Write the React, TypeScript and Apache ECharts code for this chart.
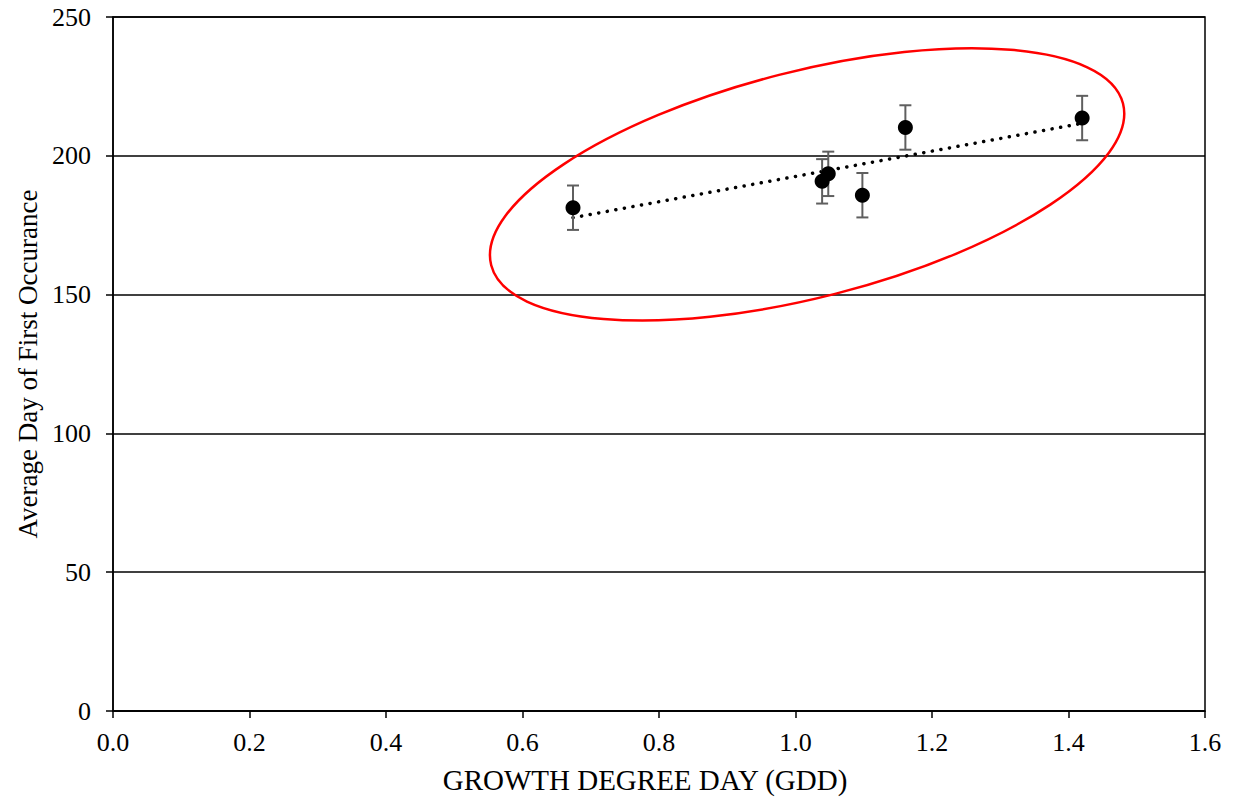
import { useEffect, useRef } from "react";
import * as echarts from "echarts";

const gdd = [0.674, 1.039, 1.048, 1.098, 1.161, 1.42];
const avgDay = [181.3, 190.8, 193.5, 185.8, 210.2, 213.6];
const errorMargin = [8, 8, 8, 8, 8, 8];
const trendX = [0.674, 1.42];
const trendY = [177.7, 211.7];
const ellipseCenter = [1.017, 189.7];
const xTitle = "GROWTH DEGREE DAY (GDD)";
const yTitle = "Average Day of First Occurance";

const FONT = "'Liberation Serif', 'Times New Roman', serif";

export default function App() {
  const ref = useRef<HTMLDivElement>(null);
  useEffect(() => {
    document.body.style.margin = "0";
    const chart = echarts.init(ref.current!, null, { renderer: "svg" });
    const option: any = {
      animation: false,
      backgroundColor: "#fff",
      grid: {
        left: 113,
        right: 29,
        top: 17,
        bottom: 84,
        show: true,
        borderColor: "#000",
        borderWidth: 1.5,
        backgroundColor: "transparent",
      },
      xAxis: {
        type: "value",
        min: 0,
        max: 1.6,
        interval: 0.2,
        name: xTitle,
        nameLocation: "middle",
        nameGap: 54,
        nameTextStyle: { fontFamily: FONT, fontSize: 29, color: "#000", padding: [0, 28, 0, 0] },
        axisLine: { show: true, onZero: false, lineStyle: { color: "#000", width: 1.5 } },
        axisTick: { show: true, inside: false, length: 7, lineStyle: { color: "#000", width: 1.5 } },
        axisLabel: {
          margin: 18,
          fontFamily: FONT,
          fontSize: 26,
          color: "#000",
          formatter: (v: number) => v.toFixed(1),
        },
        splitLine: { show: false },
      },
      yAxis: {
        type: "value",
        min: 0,
        max: 250,
        interval: 50,
        name: yTitle,
        nameLocation: "middle",
        nameGap: 71,
        nameTextStyle: { fontFamily: FONT, fontSize: 27, color: "#000" },
        axisLine: { show: true, onZero: false, lineStyle: { color: "#000", width: 1.5 } },
        axisTick: { show: true, inside: false, length: 7, lineStyle: { color: "#000", width: 1.5 } },
        axisLabel: { margin: 22, fontFamily: FONT, fontSize: 26, color: "#000" },
        splitLine: { show: true, lineStyle: { color: "#000", width: 1.5 } },
      },
      series: [
        {
          type: "line",
          data: trendX.map((x, i) => [x, trendY[i]]),
          symbol: "none",
          lineStyle: { color: "#000", width: 3.5, type: [0.1, 8.6], cap: "round" },
          z: 3,
        },
        {
          type: "custom",
          data: gdd.map((x, i) => [x, avgDay[i], errorMargin[i]]),
          renderItem: (params: any, api: any) => {
            const x = api.value(0);
            const y = api.value(1);
            const e = api.value(2);
            const top = api.coord([x, y + e]);
            const bot = api.coord([x, y - e]);
            const w = 6;
            const style = { stroke: "#5f5f5f", lineWidth: 2, fill: "none" };
            return {
              type: "group",
              children: [
                { type: "line", shape: { x1: top[0], y1: top[1], x2: bot[0], y2: bot[1] }, style },
                { type: "line", shape: { x1: top[0] - w, y1: top[1], x2: top[0] + w, y2: top[1] }, style },
                { type: "line", shape: { x1: bot[0] - w, y1: bot[1], x2: bot[0] + w, y2: bot[1] }, style },
              ],
            };
          },
          z: 4,
        },
        {
          type: "scatter",
          data: gdd.map((x, i) => [x, avgDay[i]]),
          symbol: "circle",
          symbolSize: 15,
          itemStyle: { color: "#000", opacity: 1 },
          z: 5,
        },
      ],
    };
    chart.setOption(option);
    const c = chart.convertToPixel({ gridIndex: 0 }, ellipseCenter) as number[];
    chart.setOption({
      graphic: [
        {
          type: "ellipse",
          x: c[0],
          y: c[1],
          rotation: 0.251,
          shape: { cx: 0, cy: 0, rx: 326, ry: 113 },
          style: { fill: "none", stroke: "#ff0000", lineWidth: 2.5 },
          z: 10,
        },
      ],
    });
    return () => chart.dispose();
  }, []);
  return <div ref={ref} style={{ width: 1234, height: 799, position: "absolute", left: 0, top: 0 }} />;
}
